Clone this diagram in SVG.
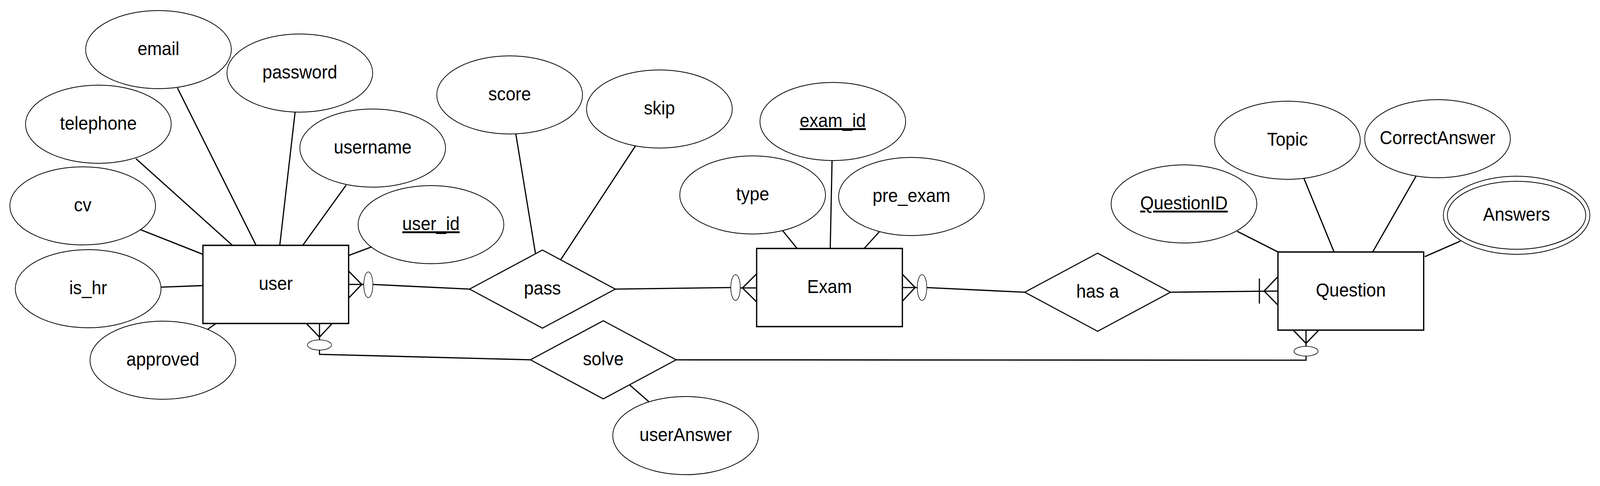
<svg xmlns="http://www.w3.org/2000/svg" width="4392" height="1244" viewBox="0 0 4392 1244" preserveAspectRatio="none">
<style>
svg:root{width:100%;height:100%;background:#fff}
.bg{fill:#fff}
.ent{fill:#fff;stroke:#000;stroke-width:3.5}
.att{fill:#fff;stroke:#000;stroke-width:2}
.rel{fill:#fff;stroke:#000;stroke-width:2.8}
.ln{fill:none;stroke:#000;stroke-width:3.2}
.mk{fill:#fff;stroke:#000;stroke-width:1.6}
text{font-family:"Liberation Sans",Arial,Helvetica,sans-serif;font-size:48px;fill:#000;text-anchor:middle}
.key{text-decoration:underline}
</style>
<rect class="bg" x="0" y="0" width="4392" height="1244"/>
<g id="connectors">
  <line class="ln" x1="487" y1="225" x2="703" y2="628"/>
  <line class="ln" x1="373" y1="406" x2="638" y2="628"/>
  <line class="ln" x1="810" y1="287" x2="768" y2="628"/>
  <line class="ln" x1="950" y1="474" x2="831" y2="628"/>
  <line class="ln" x1="386" y1="588" x2="557" y2="651"/>
  <line class="ln" x1="442" y1="735" x2="557" y2="731"/>
  <line class="ln" x1="1020" y1="632" x2="957" y2="654"/>
  <line class="ln" x1="570" y1="843" x2="593" y2="828"/>
  <line class="ln" x1="1416" y1="343" x2="1470" y2="650"/>
  <line class="ln" x1="1744" y1="374" x2="1539" y2="665"/>
  <line class="ln" x1="2148" y1="590" x2="2188" y2="636"/>
  <line class="ln" x1="2284" y1="410" x2="2279" y2="636"/>
  <line class="ln" x1="2415" y1="592" x2="2372" y2="636"/>
  <line class="ln" x1="1782" y1="1029" x2="1728" y2="985"/>
  <line class="ln" x1="3396" y1="592" x2="3508" y2="645"/>
  <line class="ln" x1="3579" y1="456" x2="3662" y2="645"/>
  <line class="ln" x1="3887" y1="451" x2="3768" y2="645"/>
  <line class="ln" x1="4009" y1="617" x2="3911" y2="657"/>
  <path class="ln" d="M957,728 L1000,728 M1022,728 L1289,740"/>
  <path class="ln" d="M957,694 L993,728 L957,763"/>
  <ellipse class="mk" cx="1011" cy="729" rx="12.5" ry="33"/>
  <path class="ln" d="M1688,740 L2008,736 M2030,737 L2077,737"/>
  <path class="ln" d="M2077,701 L2038,737 L2077,773"/>
  <ellipse class="mk" cx="2019" cy="736" rx="13" ry="33"/>
  <path class="ln" d="M2477,736 L2520,736 M2542,736 L2813,748"/>
  <path class="ln" d="M2477,702 L2512,736 L2477,771"/>
  <ellipse class="mk" cx="2531" cy="736" rx="13" ry="33"/>
  <path class="ln" d="M3213,748 L3508,745"/>
  <path class="ln" d="M3508,708 L3470,745 L3508,781"/>
  <path class="ln" d="M3457,713 L3457,777"/>
  <path class="ln" d="M877,829 L877,872 M877,894 L877,907 L1456,921"/>
  <path class="ln" d="M842,829 L877,863 L911,829"/>
  <ellipse class="mk" cx="877" cy="883" rx="33" ry="13"/>
  <path class="ln" d="M1856,921 L3585,922 L3585,910 M3585,888 L3585,845"/>
  <path class="ln" d="M3550,845 L3585,879 L3620,845"/>
  <ellipse class="mk" cx="3585" cy="899" rx="33" ry="12.5"/>
</g>
<g id="user"><rect class="ent" x="557" y="628" width="400" height="200"/><text x="757" y="742">user</text></g>
<g id="exam"><rect class="ent" x="2077" y="636" width="400" height="200"/><text x="2277" y="750">Exam</text></g>
<g id="question"><rect class="ent" x="3508" y="645" width="400" height="200"/><text x="3708" y="759">Question</text></g>
<g id="pass"><polygon class="rel" points="1289,740 1489,640 1689,740 1489,840"/><text x="1489" y="754">pass</text></g>
<g id="solve"><polygon class="rel" points="1456,921 1656,821 1856,921 1656,1021"/><text x="1656" y="935">solve</text></g>
<g id="has_a"><polygon class="rel" points="2813,748 3013,648 3213,748 3013,848"/><text x="3013" y="762">has a</text></g>
<g id="email"><ellipse class="att" cx="435" cy="127" rx="200" ry="100"/><text x="435" y="141">email</text></g>
<g id="password"><ellipse class="att" cx="823" cy="187" rx="200" ry="100"/><text x="823" y="201">password</text></g>
<g id="telephone"><ellipse class="att" cx="270" cy="318" rx="200" ry="100"/><text x="270" y="332">telephone</text></g>
<g id="username"><ellipse class="att" cx="1023" cy="379" rx="200" ry="100"/><text x="1023" y="393">username</text></g>
<g id="cv"><ellipse class="att" cx="227" cy="527" rx="200" ry="100"/><text x="227" y="541">cv</text></g>
<g id="user_id"><ellipse class="att" cx="1183" cy="575" rx="200" ry="100"/><text class="key" x="1183" y="589">user_id</text></g>
<g id="is_hr"><ellipse class="att" cx="242" cy="739" rx="200" ry="100"/><text x="242" y="753">is_hr</text></g>
<g id="approved"><ellipse class="att" cx="447" cy="922" rx="200" ry="100"/><text x="447" y="936">approved</text></g>
<g id="score"><ellipse class="att" cx="1399" cy="243" rx="200" ry="100"/><text x="1399" y="257">score</text></g>
<g id="skip"><ellipse class="att" cx="1810" cy="279" rx="200" ry="100"/><text x="1810" y="293">skip</text></g>
<g id="exam_id"><ellipse class="att" cx="2286" cy="311" rx="200" ry="100"/><text class="key" x="2286" y="325">exam_id</text></g>
<g id="type"><ellipse class="att" cx="2066" cy="499" rx="200" ry="100"/><text x="2066" y="513">type</text></g>
<g id="pre_exam"><ellipse class="att" cx="2502" cy="503" rx="200" ry="100"/><text x="2502" y="517">pre_exam</text></g>
<g id="userAnswer"><ellipse class="att" cx="1882" cy="1115" rx="200" ry="100"/><text x="1882" y="1129">userAnswer</text></g>
<g id="QuestionID"><ellipse class="att" cx="3250" cy="522" rx="200" ry="100"/><text class="key" x="3250" y="536">QuestionID</text></g>
<g id="Topic"><ellipse class="att" cx="3534" cy="359" rx="200" ry="100"/><text x="3534" y="373">Topic</text></g>
<g id="CorrectAnswer"><ellipse class="att" cx="3946" cy="355" rx="200" ry="100"/><text x="3946" y="369">CorrectAnswer</text></g>
<g id="Answers"><ellipse class="att" cx="4163" cy="551" rx="201" ry="100"/><ellipse class="att" cx="4163" cy="551" rx="190" ry="87"/><text x="4163" y="565">Answers</text></g>
</svg>
